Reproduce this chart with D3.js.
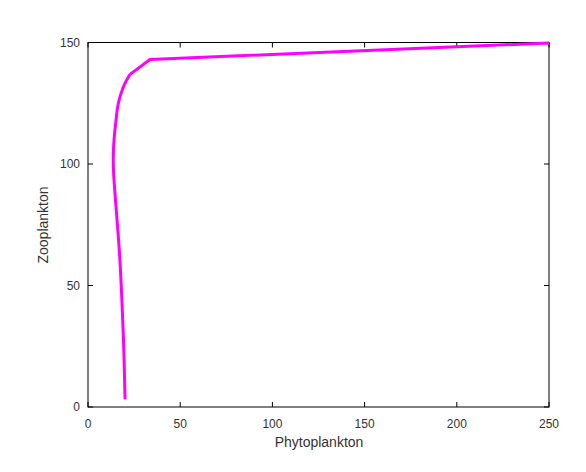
<!DOCTYPE html>
<html><head><meta charset="utf-8">
<script src="https://cdn.jsdelivr.net/npm/d3@7"></script>
<style>body{margin:0;background:#fff}svg{display:block}</style>
</head><body>
<svg id="c" width="586" height="472"></svg>
<script>
const xTicks = [0, 50, 100, 150, 200, 250];
const yTicks = [0, 50, 100, 150];
const phyto = [20.1, 19.3, 18.3, 17.7, 17.2, 16.6, 15.9, 15.2, 14.5, 13.9, 13.7, 14.1, 15.0, 16.4, 19.1, 22.8, 33.6, 250];
const zoo   = [3.2, 26.3, 45.3, 55.0, 61.8, 68.6, 75.5, 82.3, 89.2, 96.1, 102.9, 109.7, 116.6, 124.8, 131.6, 136.9, 143.0, 149.8];
const xLabel = "Phytoplankton";
const yLabel = "Zooplankton";

const svg = d3.select("#c");
const L = 88, R = 549, T = 42.5, B = 407;
const x = d3.scaleLinear().domain([0, 250]).range([L, R]);
const y = d3.scaleLinear().domain([0, 150]).range([B, T]);
const font = "Arial, 'Liberation Sans', sans-serif";
const tl = 5;

const g = svg.append("g");
xTicks.forEach(v => {
  g.append("line").attr("x1", x(v)).attr("x2", x(v)).attr("y1", B).attr("y2", B - tl).attr("stroke", "#000");
  g.append("line").attr("x1", x(v)).attr("x2", x(v)).attr("y1", T).attr("y2", T + tl).attr("stroke", "#000");
  g.append("text").attr("x", x(v)).attr("y", 428).attr("text-anchor", "middle")
    .attr("font-family", font).attr("font-size", 12).attr("fill", "#333").text(v);
});
yTicks.forEach(v => {
  g.append("line").attr("x1", L).attr("x2", L + tl).attr("y1", y(v)).attr("y2", y(v)).attr("stroke", "#000");
  g.append("line").attr("x1", R).attr("x2", R - tl).attr("y1", y(v)).attr("y2", y(v)).attr("stroke", "#000");
  g.append("text").attr("x", 80).attr("y", y(v)).attr("dy", "0.35em").attr("text-anchor", "end")
    .attr("font-family", font).attr("font-size", 12).attr("fill", "#333").text(v);
});
g.append("rect").attr("x", L).attr("y", T).attr("width", R - L).attr("height", B - T)
  .attr("fill", "none").attr("stroke", "#000").attr("stroke-width", 1);

svg.append("text").attr("x", (L + R) / 2 + 0.5).attr("y", 447).attr("text-anchor", "middle")
  .attr("font-family", font).attr("font-size", 14).attr("fill", "#333").text(xLabel);
svg.append("text").attr("transform", "translate(48,225) rotate(-90)").attr("text-anchor", "middle")
  .attr("font-family", font).attr("font-size", 14).attr("fill", "#333").text(yLabel);

const pts = phyto.map((p, i) => [p, zoo[i]]);
const smooth = d3.line().x(d => x(d[0])).y(d => y(d[1])).curve(d3.curveCatmullRom.alpha(0.5));
const straight = d3.line().x(d => x(d[0])).y(d => y(d[1])).curve(d3.curveLinear);
const style = s => s.attr("fill", "none").attr("stroke", "#ff00ff").attr("stroke-width", 3)
  .attr("stroke-linejoin", "round").attr("stroke-linecap", "butt");
svg.append("path").datum(pts.slice(0, 16)).attr("d", smooth).call(style);
svg.append("path").datum(pts.slice(15)).attr("d", straight).call(style);
</script>
</body></html>
